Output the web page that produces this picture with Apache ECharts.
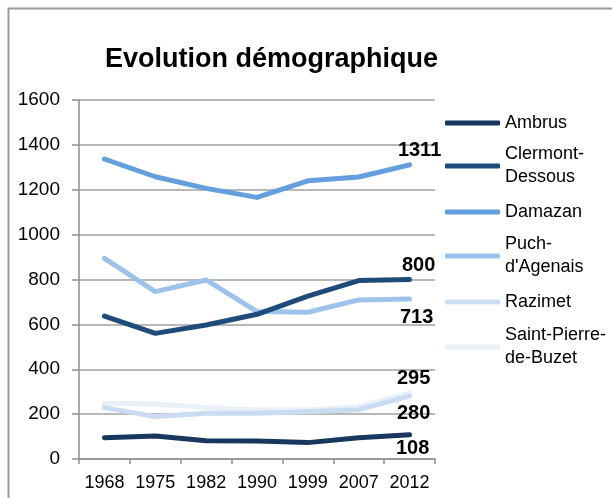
<!DOCTYPE html>
<html><head><meta charset="utf-8">
<script src="https://cdn.jsdelivr.net/npm/echarts@6/dist/echarts.min.js"></script>
<style>html,body{margin:0;padding:0;background:#fff}#c{width:612px;height:498px}</style>
</head><body><div id="c"></div>
<script>
const years = ['1968','1975','1982','1990','1999','2007','2012'];
const ambrus = [95, 102, 81, 80, 73, 95, 108];
const clermont = [637, 560, 597, 645, 726, 795, 800];
const damazan = [1337, 1258, 1206, 1166, 1240, 1257, 1311];
const puch = [894, 746, 798, 657, 654, 709, 713];
const razimet = [229, 189, 204, 204, 211, 220, 280];
const saintPierre = [248, 245, 229, 218, 218, 233, 295];
const names = ['Ambrus', 'Clermont-Dessous', 'Damazan', "Puch-d'Agenais", 'Razimet', 'Saint-Pierre-de-Buzet'];
const legendText = ['Ambrus', 'Clermont-\nDessous', 'Damazan', "Puch-\nd'Agenais", 'Razimet', 'Saint-Pierre-\nde-Buzet'];
const yTicks = [0, 200, 400, 600, 800, 1000, 1200, 1400, 1600];

const colors = ['#17375e', '#1f4b7a', '#629fdc', '#9ec3ea', '#c9dcf1', '#eaf0f8'];
const values = [ambrus, clermont, damazan, puch, razimet, saintPierre];
const labelPos = [
  {position: 'bottom', offset: [3, 0]},
  {position: 'top', offset: [9, 0]},
  {position: 'top', offset: [10, 0]},
  {position: 'bottom', offset: [7, 4]},
  {position: 'bottom', offset: [4, 3]},
  {position: 'top', offset: [4, 0]}
];
const legendY = [123, 166, 212, 256, 302, 347];

const series = values.map((vals, i) => ({
  name: names[i],
  type: 'line',
  symbol: 'circle',
  symbolSize: 0.1,
  z: 10 - i,
  lineStyle: {width: 5, color: colors[i], cap: 'round', join: 'round'},
  itemStyle: {color: colors[i]},
  label: {show: false},
  data: vals.map((v, j) => j === vals.length - 1 ? {
    value: v,
    label: Object.assign({show: true, color: '#000', fontWeight: 'bold', fontSize: 20,
      fontFamily: 'Liberation Sans, Arial, sans-serif', distance: 4}, labelPos[i])
  } : v)
}));

const legends = names.map((n, i) => {
  const two = legendText[i].indexOf('\n') >= 0;
  return {
    data: [n],
    left: 445,
    top: legendY[i] - (two ? 34.5 : 11.5),
    padding: 0,
    itemWidth: 55,
    itemHeight: 5,
    itemGap: 0,
    icon: 'roundRect',
    formatter: () => legendText[i],
    textStyle: {fontSize: 18, color: '#000', fontFamily: 'Liberation Sans, Arial, sans-serif',
      lineHeight: 23, padding: two ? [23, 0, 0, 0] : 0}
  };
});

const chart = echarts.init(document.getElementById('c'));
chart.setOption({
  animation: false,
  backgroundColor: '#fff',
  graphic: [{type: 'rect', left: 6, top: 6, shape: {width: 800, height: 700},
    style: {fill: 'none', stroke: '#9a9a9a', lineWidth: 2}, z: -10}],
  title: {text: 'Evolution démographique', left: 100, top: 41,
    textStyle: {fontSize: 27, fontWeight: 'bold', color: '#000', fontFamily: 'Liberation Sans, Arial, sans-serif'}},
  legend: legends,
  grid: {left: 79, right: 177, top: 100, bottom: 39, containLabel: false},
  xAxis: {
    type: 'category', data: years, boundaryGap: true,
    axisLine: {lineStyle: {color: '#8e8e8e', width: 1.5}},
    axisTick: {show: true, length: 5, interval: 0, lineStyle: {color: '#8e8e8e', width: 1.5}},
    axisLabel: {color: '#000', fontSize: 18, margin: 15, interval: 0, hideOverlap: false,
      fontFamily: 'Liberation Sans, Arial, sans-serif'}
  },
  yAxis: {
    type: 'value', min: yTicks[0], max: yTicks[yTicks.length - 1], interval: 200,
    axisLine: {show: true, lineStyle: {color: '#8e8e8e', width: 1.5}},
    axisTick: {show: true, length: 7, lineStyle: {color: '#8e8e8e', width: 1.5}},
    splitLine: {lineStyle: {color: '#a0a0a0', width: 1.5}},
    axisLabel: {color: '#000', fontSize: 19, margin: 19, formatter: v => String(v),
      fontFamily: 'Liberation Sans, Arial, sans-serif'}
  },
  series: series
});
</script></body></html>
